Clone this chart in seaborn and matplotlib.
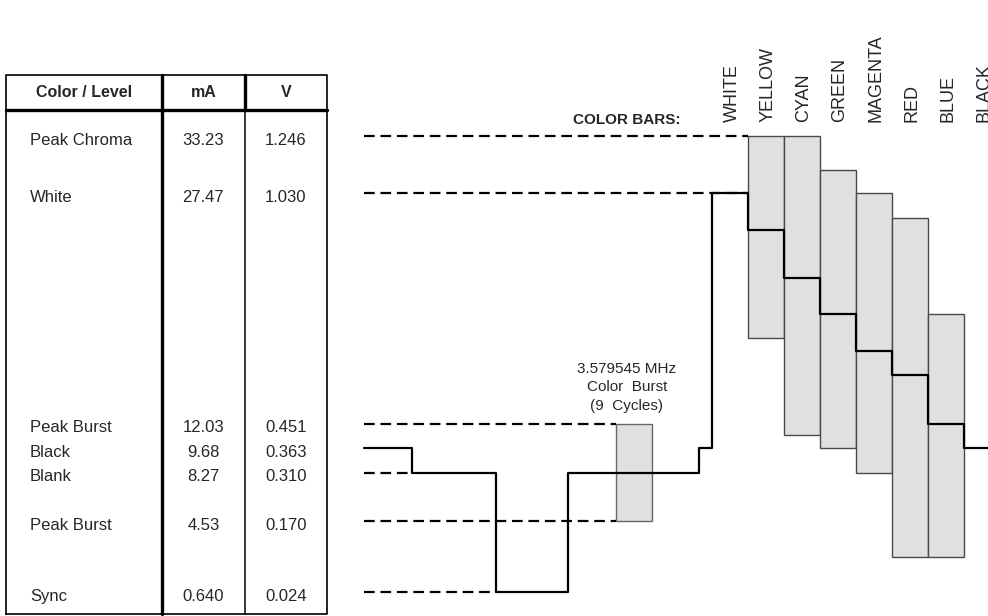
"""NTSC composite video levels with 100% colour bars"""
import numpy as np
import matplotlib
matplotlib.use("Agg")
import matplotlib.pyplot as plt
import matplotlib.transforms as mtransforms
import seaborn as sns

# Set style
sns.set_style("white")
plt.rcParams['font.family'] = ['Liberation Sans', 'DejaVu Sans']

# Reference levels (table)
level_names = ['Peak Chroma', 'White', 'Peak Burst', 'Black', 'Blank', 'Peak Burst', 'Sync']
level_ma = [33.23, 27.47, 12.03, 9.68, 8.27, 4.53, 0.640]
level_ma_txt = ['33.23', '27.47', '12.03', '9.68', '8.27', '4.53', '0.640']
level_v_txt = ['1.246', '1.030', '0.451', '0.363', '0.310', '0.170', '0.024']

# schematic (not to scale) spacing of the levels on the drawing
sched_ma = [0.64, 4.53, 8.27, 9.68, 12.03, 27.47, 33.23]
sched_pos = [0.0, 0.156, 0.262, 0.316, 0.369, 0.875, 1.0]

# Dashed reference lines: level (mA) and where they end (time, bar widths)
ref_ma = [33.23, 27.47, 12.03, 8.27, 4.53, 0.64]
ref_end = [10.67, 10.67, 7.0, 1.33, 7.0, 3.67]

# Waveform (time in bar widths, level in mA)
wave_t = [0, 1.33, 3.67, 5.67, 9.31, 9.67, 10.67, 11.67, 12.67, 13.67, 14.67, 15.67, 16.67, 17.4]
wave_ma = [9.68, 8.27, 0.64, 8.27, 9.68, 27.47, 24.99, 21.77, 19.35, 16.87, 15.26, 12.03, 9.68, 9.68]

# Colour bars
bar_names = ['WHITE', 'YELLOW', 'CYAN', 'GREEN', 'MAGENTA', 'RED', 'BLUE', 'BLACK']
bar_start = [9.67, 10.67, 11.67, 12.67, 13.67, 14.67, 15.67, 16.67]
chroma_top = [33.23, 33.23, 29.79, 27.47, 25.79, 19.35]   # YELLOW..BLUE
chroma_bot = [17.74, 10.95, 9.68, 8.27, 2.56, 2.56]

# Colour burst
burst_t = [7.0, 8.0]
burst_ma = [4.53, 12.03]
burst_txt = '3.579545 MHz\nColor  Burst\n(9  Cycles)'


def fwd(v):
    return np.interp(v, sched_ma, sched_pos)


def inv(p):
    return np.interp(p, sched_pos, sched_ma)


fig = plt.figure(figsize=(9.88, 6.16), dpi=100)
ax = fig.add_axes([364 / 988, 24 / 616, 624 / 988, 456 / 616])
tab = fig.add_axes([6 / 988, 2 / 616, 321 / 988, 539 / 616])

ax.set_yscale('function', functions=(fwd, inv))

# chroma bars + burst
gray = '#e0e0e0'
edge = '#4a4a4a'
ax.bar(bar_start[1:7], np.array(chroma_top) - np.array(chroma_bot), bottom=chroma_bot,
       width=1.0, align='edge', color=gray, edgecolor=edge, linewidth=1.0, clip_on=False, zorder=2)
ax.bar([burst_t[0]], [burst_ma[1] - burst_ma[0]], bottom=[burst_ma[0]], width=burst_t[1] - burst_t[0],
       align='edge', color=gray, edgecolor='#666666', linewidth=1.0, clip_on=False, zorder=2)

# dashed reference lines
ax.hlines(ref_ma, 0, ref_end, colors='black', linewidth=1.6,
          linestyles=(0, (4.8, 2.6)), clip_on=False, zorder=3)

# waveform
sns.lineplot(x=wave_t, y=wave_ma, ax=ax, color='black', linewidth=1.6,
             drawstyle='steps-post', estimator=None, sort=False, clip_on=False, zorder=4)

ax.set_xlim(0, 17.33)
ax.set_ylim(0.64, 33.23)
ax.axis('off')

# labels for the bars
lab_tr = mtransforms.blended_transform_factory(ax.transData, ax.transAxes)
for name, x0 in zip(bar_names, bar_start):
    ax.text(x0 + 0.55, 1.03, name, rotation=90, ha='center', va='bottom',
            fontsize=13, transform=lab_tr)
ax.text(8.78, 1.036, 'COLOR BARS:', ha='right', va='center', fontsize=11,
        fontweight='bold', transform=lab_tr)

# burst annotation
ax.annotate(burst_txt, xy=(np.mean(burst_t) - 0.2, burst_ma[1]), xytext=(0, 8),
            textcoords='offset points', ha='center', va='bottom', fontsize=11,
            linespacing=1.4)

# table
tab.set_xlim(0, 1)
tab.set_ylim(0, 1)
tab.axis('off')
hdr = 0.935
tab.plot([0, 1, 1, 0, 0], [0, 0, 1, 1, 0], color='black', lw=1.2, clip_on=False)
tab.plot([0, 1], [hdr, hdr], color='black', lw=2.4, clip_on=False)
tab.plot([0.486, 0.486], [0, 1], color='black', lw=2.4, clip_on=False)
tab.plot([0.745, 0.745], [0, hdr], color='black', lw=1.1, clip_on=False)
tab.plot([0.745, 0.745], [hdr, 1], color='black', lw=2.4, clip_on=False)

tab.text(0.243, 0.9675, 'Color / Level', ha='center', va='center', fontsize=11.5, fontweight='bold')
tab.text(0.617, 0.9675, 'mA', ha='center', va='center', fontsize=11.5, fontweight='bold')
tab.text(0.872, 0.9675, 'V', ha='center', va='center', fontsize=11.5, fontweight='bold')

row_tr = mtransforms.blended_transform_factory(tab.transAxes, ax.transData)
shift = mtransforms.ScaledTranslation(0, -3 / 72, fig.dpi_scale_trans)
for name, ma, t_ma, t_v in zip(level_names, level_ma, level_ma_txt, level_v_txt):
    tab.text(0.075, ma, name, ha='left', va='center', fontsize=12, transform=row_tr + shift)
    tab.text(0.615, ma, t_ma, ha='center', va='center', fontsize=12, transform=row_tr + shift)
    tab.text(0.872, ma, t_v, ha='center', va='center', fontsize=12, transform=row_tr + shift)

plt.savefig('out.png', dpi=100)
